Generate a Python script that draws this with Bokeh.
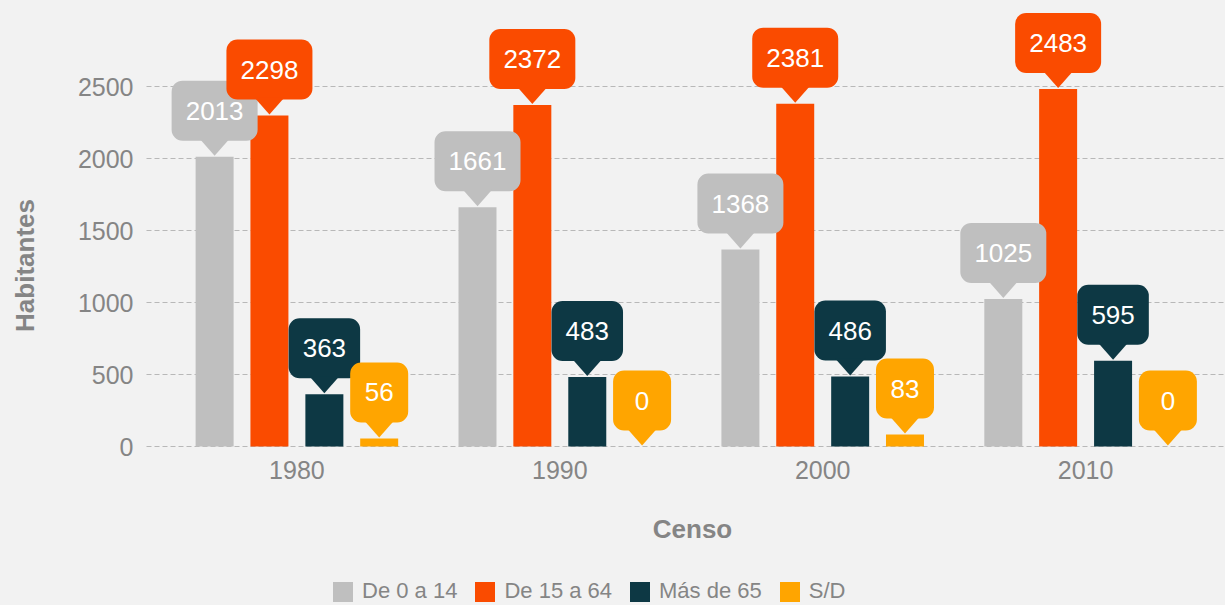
import math
from bokeh.plotting import figure
from bokeh.models import (Range1d, FixedTicker, Legend, LegendItem, ColumnDataSource, Label)
from bokeh.core.properties import value
from bokeh.embed import file_html
from bokeh.resources import INLINE

# ---------------- data ----------------
years = [1980, 1990, 2000, 2010]
series_names = ["De 0 a 14", "De 15 a 64", "Más de 65", "S/D"]
de_0_a_14 = [2013, 1661, 1368, 1025]
de_15_a_64 = [2298, 2372, 2381, 2483]
mas_de_65 = [363, 483, 486, 595]
sin_dato = [56, 0, 83, 0]
y_ticks = [0, 500, 1000, 1500, 2000, 2500]
x_title = "Censo"
y_title = "Habitantes"

series_values = [de_0_a_14, de_15_a_64, mas_de_65, sin_dato]
colors = ["#bfbfbf", "#fa4b00", "#0d3844", "#ffa500"]
offsets = [-3.13, -1.045, 1.045, 3.13]
bar_w = 1.445

# ---------------- layout constants (px) ----------------
W, H = 1225, 605
axis_left_px = 146          # where the plotting area starts
first_cat_px = 296.4        # centre of first category
zero_px = 446               # y = 0 from the top
px_per_year = 26.29
px_per_unit = 0.144

x_start = years[0] - first_cat_px / px_per_year
x_end = x_start + W / px_per_year
x_axis_left = years[0] - (first_cat_px - axis_left_px) / px_per_year
y_end = zero_px / px_per_unit
y_start = y_end - H / px_per_unit
upx = 1 / px_per_year   # data units per px (x)
upp = 1 / px_per_unit   # data units per px (y)

BG = "#f2f2f2"
TXT = "#858585"
FONT = "Liberation Sans"

p = figure(width=W, height=H, output_backend="svg", toolbar_location=None,
           x_range=Range1d(x_start, x_end), y_range=Range1d(y_start, y_end),
           min_border_left=0, min_border_right=0, min_border_top=0, min_border_bottom=0)
p.background_fill_color = BG
p.border_fill_color = BG
p.outline_line_color = None
p.xgrid.grid_line_color = None
p.ygrid.grid_line_color = None

# dashed horizontal grid lines at the y ticks, starting at the plotting area
n = len(y_ticks)
p.segment(x0=[x_axis_left] * n, x1=[x_end] * n, y0=y_ticks, y1=y_ticks,
          line_color="#b8b8b8", line_dash="5 3", line_width=1)

renderers = []
for vals, col, off in zip(series_values, colors, offsets):
    src = ColumnDataSource(dict(x=[y + off for y in years], top=vals))
    r = p.vbar(x="x", top="top", bottom=0, width=bar_w, source=src, fill_color=col, line_color=None)
    renderers.append(r)

# callouts
box_h = 60
gap = 16
tri_hw = 15
for vals, col, off in zip(series_values, colors, offsets):
    xs = [y + off for y in years]
    labels = [str(v) for v in vals]
    widths = [max(58, 14.5 * len(s) + 28) for s in labels]
    cy = [v + (gap + box_h / 2) * upp for v in vals]
    p.rect(x=xs, y=cy, width=widths, height=box_h, width_units="screen", height_units="screen",
           fill_color=col, line_color=None, border_radius=11)
    txs, tys = [], []
    for x, v in zip(xs, vals):
        base = v + (gap + 2) * upp
        tip = v + 1 * upp
        txs.append([x - tri_hw * upx, x + tri_hw * upx, x])
        tys.append([base, base, tip])
    p.patches(xs=txs, ys=tys, fill_color=col, line_color=None)
    p.text(x=xs, y=cy, text=labels, text_align="center", text_baseline="middle",
           text_color="#ffffff", text_font_size="26px", text_font=value(FONT))

# axes (placed inside the canvas-wide frame)
p.xaxis.ticker = FixedTicker(ticks=years)
p.xaxis.fixed_location = 0
p.yaxis.ticker = FixedTicker(ticks=y_ticks)
p.yaxis.fixed_location = x_axis_left
for ax in (p.xaxis[0], p.yaxis[0]):
    ax.axis_line_color = None
    ax.major_tick_line_color = None
    ax.minor_tick_line_color = None
    ax.major_tick_out = 0
    ax.major_tick_in = 0
    ax.major_label_text_color = TXT
    ax.major_label_text_font = FONT
    ax.major_label_text_font_size = "25px"
p.xaxis.major_label_standoff = 14
p.yaxis.major_label_standoff = 13

p.add_layout(Label(x=692, y=H - 528, x_units="screen", y_units="screen", text=x_title,
                   text_align="center", text_baseline="middle", text_color=TXT,
                   text_font=FONT, text_font_size="26px", text_font_style="bold"))
p.add_layout(Label(x=24, y=H - 265, x_units="screen", y_units="screen", text=y_title,
                   angle=math.pi / 2, text_align="center", text_baseline="middle",
                   text_color=TXT, text_font=FONT, text_font_size="26px",
                   text_font_style="bold"))

legend = Legend(items=[LegendItem(label=nm, renderers=[r]) for nm, r in zip(series_names, renderers)],
                location=(330, 1), orientation="horizontal")
legend.background_fill_alpha = 0
legend.border_line_color = None
legend.padding = 0
legend.margin = 0
legend.spacing = 15
legend.label_standoff = 7
legend.glyph_width = 25
legend.glyph_height = 25
legend.label_text_font = FONT
legend.label_text_font_size = "22px"
legend.label_text_color = TXT
p.add_layout(legend)

html = file_html(p, INLINE)
html = html.replace("</head>", "<style>body{background:#f2f2f2;}</style></head>", 1)
open("out.html", "w").write(html)
